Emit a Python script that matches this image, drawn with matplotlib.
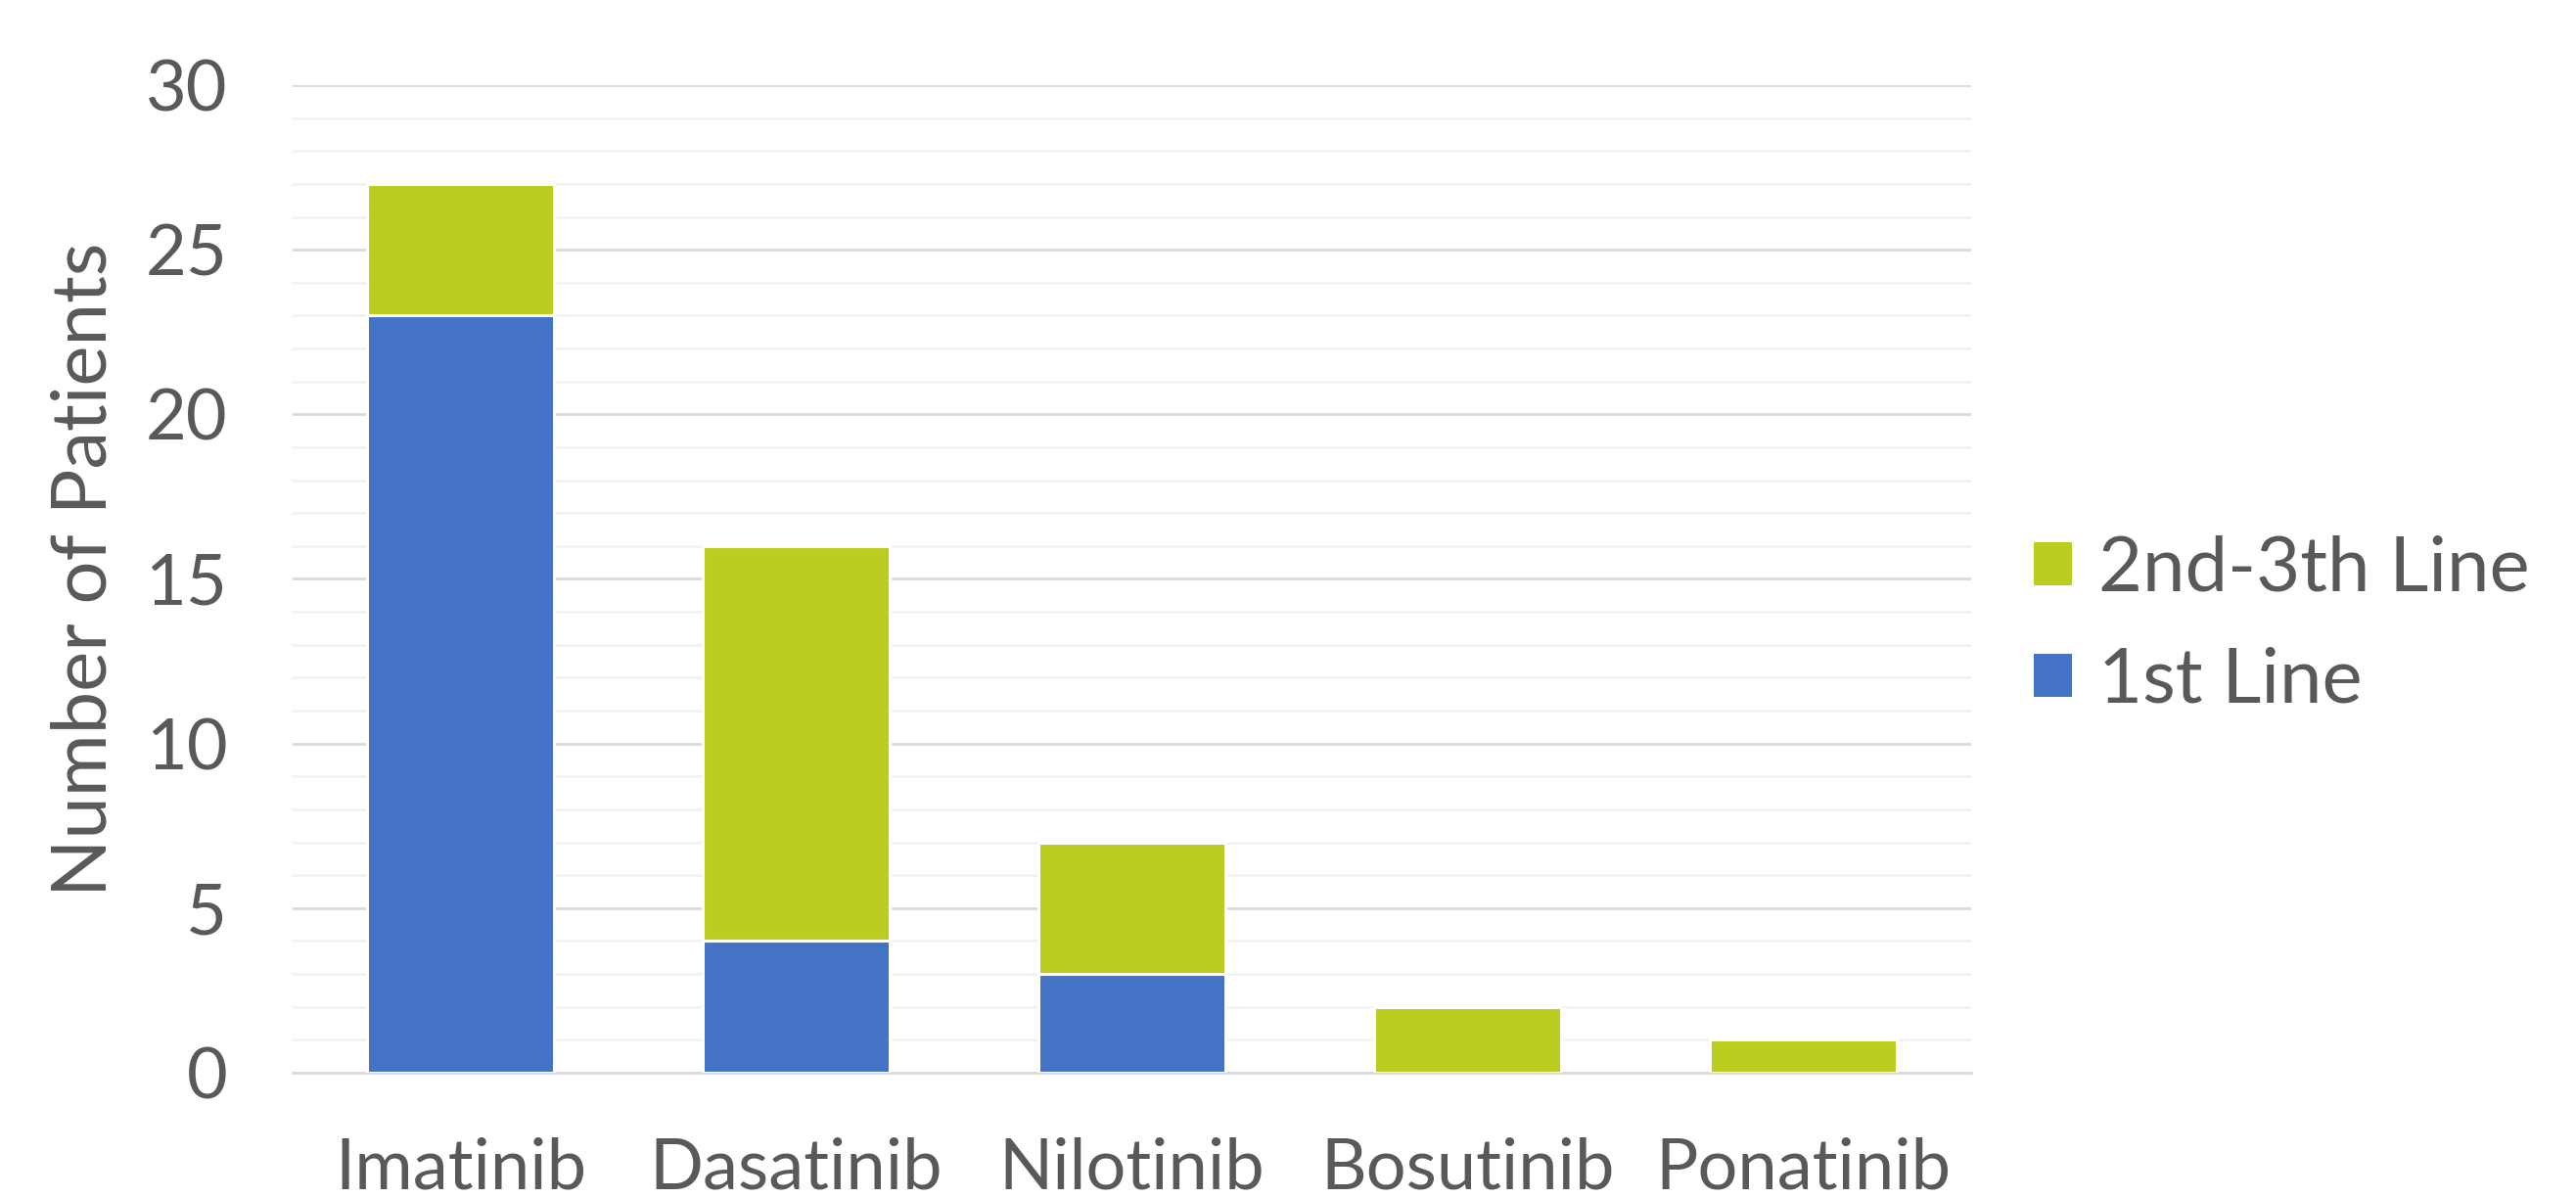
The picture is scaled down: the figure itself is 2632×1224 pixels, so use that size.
import matplotlib
matplotlib.use("Agg")
import matplotlib.pyplot as plt
from matplotlib.patches import Patch
import numpy as np

drugs = ["Imatinib", "Dasatinib", "Nilotinib", "Bosutinib", "Ponatinib"]
first_line = [23, 4, 3, 0, 0]
later_line = [4, 12, 4, 2, 1]
series_labels = ["1st Line", "2nd-3th Line"]
y_ticks = [0, 5, 10, 15, 20, 25, 30]

blue = "#4472C4"
green = "#BBCE1F"
text_col = "#595959"

plt.rcParams['font.family'] = ['Lato', 'DejaVu Sans']

fig = plt.figure(figsize=(26.32, 12.24), dpi=100)
ax = fig.add_axes([0.1136, 0.1046, 0.6516, 0.8243])

x = np.arange(len(drugs))
w = 0.556
ax.bar(x, first_line, width=w, color=blue, edgecolor="white", linewidth=2.2, zorder=3)
ax.bar(x, later_line, width=w, bottom=first_line, color=green, edgecolor="white", linewidth=2.2, zorder=3)

ax.set_xlim(-0.5, len(drugs) - 0.5)
ax.set_ylim(0, 30)
ax.set_yticks(y_ticks)
ax.set_yticks(np.arange(0, 31, 1), minor=True)
ax.grid(axis='y', which='major', color="#D9D9D9", linewidth=2.0, zorder=0)
ax.grid(axis='y', which='minor', color="#F2F2F2", linewidth=2.0, zorder=0)
ax.set_axisbelow(True)

for s in ["top", "right", "left"]:
    ax.spines[s].set_visible(False)
ax.spines["bottom"].set_color("#D9D9D9")
ax.spines["bottom"].set_linewidth(2.0)

ax.set_xticks(x)
ax.set_xticklabels(drugs)
ax.tick_params(axis='both', which='both', length=0, labelsize=52, colors=text_col)
ax.tick_params(axis='x', pad=47)
ax.tick_params(axis='y', pad=48)

ax.set_ylabel("Number of Patients", fontsize=56, color=text_col)
ax.yaxis.set_label_coords(-0.1235, 0.51)
ax.yaxis.label.set_verticalalignment('center')

handles = [Patch(facecolor=green, edgecolor="none"), Patch(facecolor=blue, edgecolor="none")]
fig.legend(handles, [series_labels[1], series_labels[0]], loc="center left",
           bbox_to_anchor=(0.7895, 0.478), frameon=False, fontsize=56,
           labelcolor=text_col, handlelength=0.5, handleheight=0.5,
           handletextpad=0.35, labelspacing=0.55, borderpad=0, borderaxespad=0)

fig.savefig("out.png", dpi=100, facecolor="white")
